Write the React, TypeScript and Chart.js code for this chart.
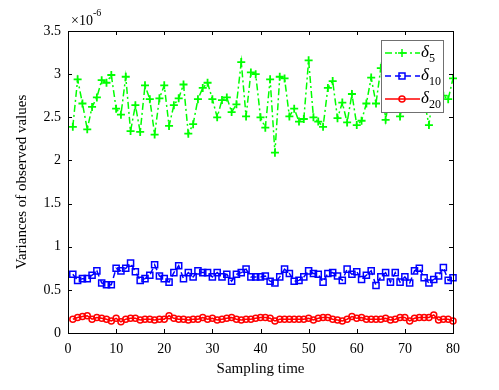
import { useEffect, useRef } from 'react';
import { Chart, registerables } from 'chart.js';
Chart.register(...registerables);

const samplingTime = [
  1, 2, 3, 4, 5, 6, 7, 8, 9, 10, 11, 12, 13, 14, 15, 16, 17, 18, 19, 20,
  21, 22, 23, 24, 25, 26, 27, 28, 29, 30, 31, 32, 33, 34, 35, 36, 37, 38, 39, 40,
  41, 42, 43, 44, 45, 46, 47, 48, 49, 50, 51, 52, 53, 54, 55, 56, 57, 58, 59, 60,
  61, 62, 63, 64, 65, 66, 67, 68, 69, 70, 71, 72, 73, 74, 75, 76, 77, 78, 79, 80,
];

// values in units of 1e-6
const delta5 = [
  2.39, 2.94, 2.66, 2.36, 2.62, 2.73, 2.93, 2.90, 2.99, 2.60,
  2.53, 2.97, 2.34, 2.64, 2.33, 2.87, 2.71, 2.30, 2.72, 2.87,
  2.40, 2.64, 2.72, 2.88, 2.31, 2.42, 2.71, 2.84, 2.90, 2.71,
  2.50, 2.70, 2.73, 2.56, 2.65, 3.14, 2.51, 3.02, 3.00, 2.50,
  2.38, 2.94, 2.09, 2.97, 2.95, 2.51, 2.60, 2.45, 2.48, 3.16,
  2.50, 2.45, 2.39, 2.84, 2.92, 2.49, 2.67, 2.44, 2.77, 2.41,
  2.46, 2.66, 2.96, 2.66, 3.07, 2.47, 2.80, 2.95, 2.51, 2.75,
  2.62, 2.90, 3.00, 2.70, 2.41, 2.85, 2.65, 2.75, 2.71, 2.95,
];

const delta10 = [
  0.68, 0.61, 0.63, 0.63, 0.67, 0.72, 0.58, 0.56, 0.56, 0.75,
  0.72, 0.75, 0.81, 0.71, 0.61, 0.63, 0.67, 0.79, 0.66, 0.63,
  0.59, 0.70, 0.78, 0.63, 0.70, 0.65, 0.72, 0.70, 0.70, 0.65,
  0.70, 0.65, 0.68, 0.60, 0.68, 0.70, 0.74, 0.65, 0.65, 0.65,
  0.66, 0.60, 0.58, 0.65, 0.74, 0.69, 0.60, 0.61, 0.65, 0.72,
  0.69, 0.68, 0.59, 0.69, 0.70, 0.66, 0.61, 0.74, 0.68, 0.71,
  0.62, 0.67, 0.72, 0.55, 0.65, 0.70, 0.59, 0.70, 0.59, 0.65,
  0.58, 0.72, 0.75, 0.64, 0.58, 0.62, 0.66, 0.76, 0.61, 0.64,
];

const delta20 = [
  0.16, 0.18, 0.19, 0.20, 0.16, 0.18, 0.17, 0.16, 0.14, 0.17,
  0.13, 0.16, 0.17, 0.17, 0.15, 0.16, 0.16, 0.15, 0.16, 0.16,
  0.20, 0.17, 0.16, 0.16, 0.15, 0.16, 0.16, 0.18, 0.16, 0.17,
  0.15, 0.16, 0.17, 0.18, 0.16, 0.15, 0.16, 0.16, 0.17, 0.18,
  0.18, 0.17, 0.14, 0.16, 0.16, 0.16, 0.16, 0.16, 0.16, 0.17,
  0.15, 0.17, 0.18, 0.18, 0.16, 0.15, 0.14, 0.16, 0.19, 0.17,
  0.18, 0.16, 0.16, 0.16, 0.16, 0.17, 0.15, 0.16, 0.18, 0.18,
  0.14, 0.17, 0.18, 0.18, 0.18, 0.21, 0.15, 0.16, 0.16, 0.14,
];

const xTicks = [0, 10, 20, 30, 40, 50, 60, 70, 80];
const yTicks = [0, 0.5, 1, 1.5, 2, 2.5, 3, 3.5];
const yTickLabels = ['0', '0.5', '1', '1.5', '2', '2.5', '3', '3.5'];
const xTitle = 'Sampling time';
const yTitle = 'Variances of observed values';
const legendNames = ['5', '10', '20'];

const FONT = '"Liberation Serif", "Times New Roman", serif';
const GREEN = '#00ff00';
const BLUE = '#0000ff';
const RED = '#ff0000';

function drawMarker(ctx: CanvasRenderingContext2D, style: string, x: number, y: number, color: string) {
  ctx.save();
  ctx.strokeStyle = color;
  ctx.lineWidth = 1.5;
  ctx.setLineDash([]);
  ctx.beginPath();
  if (style === 'cross') {
    ctx.moveTo(x - 4, y); ctx.lineTo(x + 4, y);
    ctx.moveTo(x, y - 4); ctx.lineTo(x, y + 4);
  } else if (style === 'rect') {
    ctx.rect(x - 3, y - 3, 6, 6);
  } else {
    ctx.arc(x, y, 3, 0, Math.PI * 2);
  }
  ctx.stroke();
  ctx.restore();
}

const axesPlugin = {
  id: 'matlabAxes',
  afterDatasetsDraw(chart: any) {
    const { ctx, chartArea } = chart;
    const { left, right, top, bottom } = chartArea;
    const xs = chart.scales.x;
    const ys = chart.scales.y;
    ctx.save();
    ctx.setLineDash([]);
    ctx.strokeStyle = '#000';
    ctx.lineWidth = 1;
    // ticks inside
    ctx.beginPath();
    xTicks.forEach((v) => {
      const px = Math.round(xs.getPixelForValue(v)) + 0.5;
      ctx.moveTo(px, bottom); ctx.lineTo(px, bottom - 4);
      ctx.moveTo(px, top); ctx.lineTo(px, top + 4);
    });
    yTicks.forEach((v) => {
      const py = Math.round(ys.getPixelForValue(v)) + 0.5;
      ctx.moveTo(left, py); ctx.lineTo(left + 4, py);
      ctx.moveTo(right, py); ctx.lineTo(right - 4, py);
    });
    ctx.stroke();
    ctx.strokeRect(Math.round(left) + 0.5, Math.round(top) + 0.5, Math.round(right - left), Math.round(bottom - top));

    // exponent label
    ctx.fillStyle = '#000';
    ctx.textBaseline = 'alphabetic';
    ctx.textAlign = 'left';
    ctx.font = `14px ${FONT}`;
    ctx.fillText('\u00d710', left + 3, top - 6);
    const w = ctx.measureText('\u00d710').width;
    ctx.font = `10px ${FONT}`;
    ctx.fillText('-6', left + 3 + w, top - 15);

    // axis titles
    ctx.font = `15px ${FONT}`;
    ctx.textAlign = 'center';
    ctx.textBaseline = 'middle';
    ctx.fillText(xTitle, (left + right) / 2, 369);
    ctx.save();
    ctx.translate(22, (top + bottom) / 2);
    ctx.rotate(-Math.PI / 2);
    ctx.fillText(yTitle, 0, 0);
    ctx.restore();

    // legend
    const lx = right - 72;
    const ly = top + 9;
    const lw = 62;
    const lh = 72;
    ctx.fillStyle = '#fff';
    ctx.fillRect(lx, ly, lw, lh);
    ctx.strokeStyle = '#707070';
    ctx.lineWidth = 1;
    ctx.strokeRect(Math.round(lx) + 0.5, Math.round(ly) + 0.5, lw, lh);
    const entries = [
      { color: GREEN, dash: [7, 3, 2, 3], style: 'cross' },
      { color: BLUE, dash: [6, 4], style: 'rect' },
      { color: RED, dash: [], style: 'circle' },
    ];
    entries.forEach((e, i) => {
      const y = ly + 13 + i * 23;
      ctx.strokeStyle = e.color;
      ctx.lineWidth = 1.5;
      ctx.setLineDash(e.dash);
      ctx.beginPath();
      ctx.moveTo(lx + 4, y);
      ctx.lineTo(lx + 39, y);
      ctx.stroke();
      ctx.setLineDash([]);
      drawMarker(ctx, e.style, lx + 21, y, e.color);
      ctx.fillStyle = '#000';
      ctx.textAlign = 'left';
      ctx.textBaseline = 'alphabetic';
      ctx.font = `italic 17px ${FONT}`;
      ctx.fillText('\u03b4', lx + 40, y + 4);
      const dw = ctx.measureText('\u03b4').width;
      ctx.font = `12px ${FONT}`;
      ctx.fillText(legendNames[i], lx + 40 + dw, y + 9);
    });
    ctx.restore();
  },
};

export default function App() {
  const ref = useRef<HTMLCanvasElement>(null);
  useEffect(() => {
    if (!ref.current) return;
    const pts = (arr: number[]) => arr.map((v, i) => ({ x: samplingTime[i], y: v }));
    const chart = new Chart(ref.current, {
      type: 'line',
      data: {
        datasets: [
          {
            label: 'delta5', data: pts(delta5), borderColor: GREEN, backgroundColor: 'transparent',
            borderWidth: 1.5, borderDash: [7, 3, 2, 3], pointStyle: 'cross', pointRadius: 4,
            pointBorderWidth: 1.8, pointBorderColor: GREEN, tension: 0, clip: false,
          },
          {
            label: 'delta10', data: pts(delta10), borderColor: BLUE, backgroundColor: 'transparent',
            borderWidth: 1.5, borderDash: [6, 4], pointStyle: 'rect', pointRadius: 4.3,
            pointBorderWidth: 1.5, pointBorderColor: BLUE, pointBackgroundColor: 'transparent', tension: 0, clip: false,
          },
          {
            label: 'delta20', data: pts(delta20), borderColor: RED, backgroundColor: 'transparent',
            borderWidth: 1.5, pointStyle: 'circle', pointRadius: 3,
            pointBorderWidth: 1.5, pointBorderColor: RED, pointBackgroundColor: 'transparent', tension: 0, clip: false,
          },
        ],
      } as any,
      options: {
        animation: false,
        responsive: false,
        events: [],
        layout: { padding: { left: 0, right: 46, top: 31, bottom: 0 } },
        plugins: { legend: { display: false }, tooltip: { enabled: false }, title: { display: false } },
        scales: {
          x: {
            type: 'linear', min: 0, max: 80,
            afterBuildTicks: (s: any) => { s.ticks = xTicks.map((v) => ({ value: v })); },
            afterFit: (s: any) => { s.height = 57; },
            grid: { display: false, drawTicks: false },
            border: { display: false },
            ticks: { font: { family: FONT, size: 14 }, color: '#000', padding: 8, maxRotation: 0, autoSkip: false },
          },
          y: {
            type: 'linear', min: 0, max: 3.5,
            afterBuildTicks: (s: any) => { s.ticks = yTicks.map((v) => ({ value: v })); },
            afterFit: (s: any) => { s.width = 68; },
            grid: { display: false, drawTicks: false },
            border: { display: false },
            ticks: {
              font: { family: FONT, size: 14 }, color: '#000', padding: 7, autoSkip: false,
              callback: (_v: any, i: number) => yTickLabels[i],
            },
          },
        },
      } as any,
      plugins: [axesPlugin],
    });
    return () => chart.destroy();
  }, []);
  return (
    <div style={{ position: 'fixed', left: 0, top: 0, width: 499, height: 390, background: '#fff' }}>
      <canvas ref={ref} width={499} height={390} style={{ display: 'block' }} />
    </div>
  );
}
